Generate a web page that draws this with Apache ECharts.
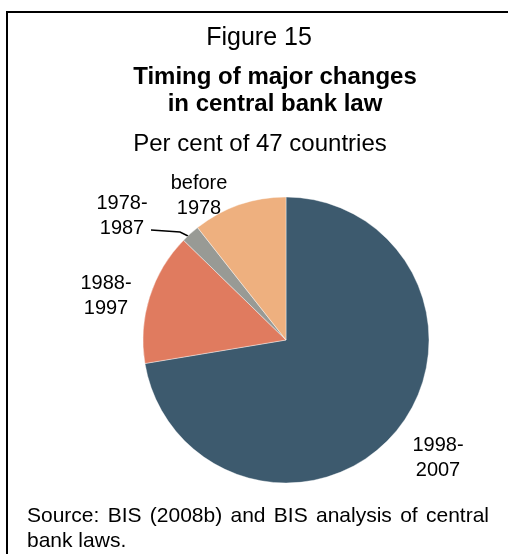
<!DOCTYPE html>
<html>
<head>
<meta charset="utf-8">
<script src="https://cdn.jsdelivr.net/npm/echarts@6/dist/echarts.min.js"></script>
<style>
  html, body { margin: 0; padding: 0; background: #fff; }
  #chart { width: 508px; height: 554px; }
</style>
</head>
<body>
<div id="chart"></div>
<script>
// data (per cent of 47 countries)
const periods = ["1998-\n2007", "1988-\n1997", "1978-\n1987", "before\n1978"];
const shares = [72.3, 14.9, 2.1, 10.6];
const sliceColors = ["#3d5a6e", "#e07b5f", "#989a95", "#eeb07f"];
// where each slice label sits (label centre)
const labelSpots = [[438, 458], [106, 296], [122, 216], [199, 196]];

const FONT = '"Liberation Sans", Arial, sans-serif';
const sourceWords = "Source: BIS (2008b) and BIS analysis of central".split(" ");

// justify the first source line between x=27 and x=489
const ctx = document.createElement("canvas").getContext("2d");
ctx.font = "21px " + FONT;
const widths = sourceWords.map(w => ctx.measureText(w).width);
const gap = (489 - 27 - widths.reduce((a, b) => a + b, 0)) / (sourceWords.length - 1);
let cursor = 27;
const sourceLine = sourceWords.map((w, i) => {
  const el = {
    type: "text", x: cursor, y: 516,
    style: { text: w, font: "21px " + FONT, fill: "#000", textAlign: "left", textVerticalAlign: "middle" },
  };
  cursor += widths[i] + gap;
  return el;
});

const chart = echarts.init(document.getElementById("chart"));
chart.setOption({
  animation: false,
  graphic: [
    {
      type: "rect",
      shape: { x: 7, y: 12, width: 530, height: 570 },
      style: { fill: "none", stroke: "#000", lineWidth: 2 },
    },
    {
      type: "text", x: 259, y: 38,
      style: { text: "Figure 15", font: "25px " + FONT, fill: "#000", textAlign: "center", textVerticalAlign: "middle" },
    },
    {
      type: "text", x: 275, y: 91,
      style: {
        text: "Timing of major changes\nin central bank law",
        font: "bold 24px " + FONT, lineHeight: 27, fill: "#000",
        textAlign: "center", textVerticalAlign: "middle",
      },
    },
    {
      type: "text", x: 260, y: 144,
      style: { text: "Per cent of 47 countries", font: "24px " + FONT, fill: "#000", textAlign: "center", textVerticalAlign: "middle" },
    },
    ...sourceLine,
    {
      type: "text", x: 27, y: 541,
      style: { text: "bank laws.", font: "21px " + FONT, fill: "#000", textAlign: "left", textVerticalAlign: "middle" },
    },
  ],
  series: [
    {
      type: "pie",
      center: [286, 340],
      radius: 143,
      startAngle: 90,
      clockwise: true,
      silent: true,
      emphasis: { disabled: true },
      itemStyle: { borderColor: "#fff", borderWidth: 0.4 },
      label: {
        show: true,
        position: "outside",
        formatter: "{b}",
        color: "#000",
        fontFamily: FONT,
        fontSize: 20,
        lineHeight: 25,
        align: "center",
      },
      labelLine: { show: false, length: 10, length2: 20, lineStyle: { color: "#000", width: 1.5 } },
      labelLayout: (params) => {
        const p = labelSpots[params.dataIndex];
        const out = { x: p[0], y: p[1], align: "center", verticalAlign: "middle" };
        if (params.dataIndex === 2) {
          // small leader from the grey slice to the end of "1987"
          out.labelLinePoints = [[190, 237], [180, 232], [151, 230]];
        }
        return out;
      },
      data: periods.map((name, i) => ({
        name,
        value: shares[i],
        itemStyle: { color: sliceColors[i] },
        labelLine: { show: i === 2 },
      })),
    },
  ],
});
</script>
</body>
</html>
